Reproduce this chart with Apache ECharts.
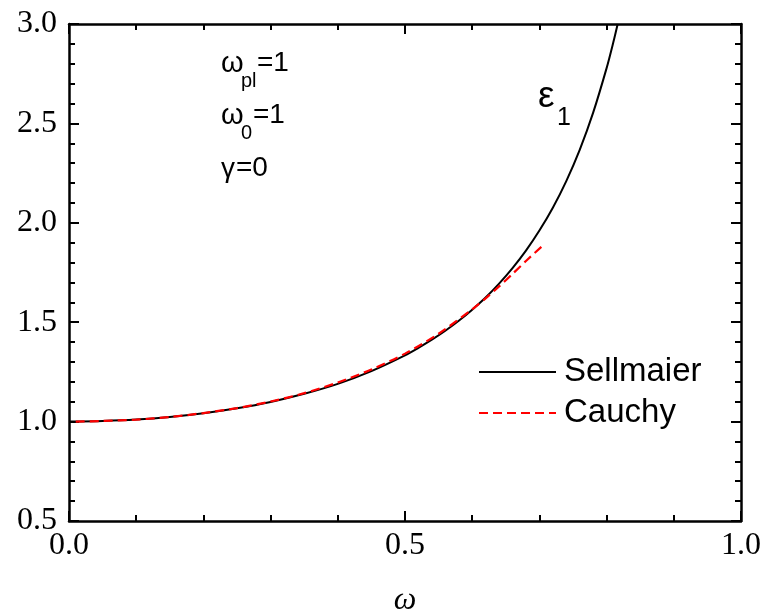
<!DOCTYPE html>
<html>
<head>
<meta charset="utf-8">
<script src="https://cdn.jsdelivr.net/npm/echarts@6/dist/echarts.min.js"></script>
<style>html,body{margin:0;padding:0;background:#fff;}#c{width:763px;height:611px;}</style>
</head>
<body>
<div id="c"></div>
<script>
// Sellmeier curve
var sellOmega = [0, 0.05, 0.1, 0.15, 0.2, 0.25, 0.3, 0.35, 0.4, 0.45, 0.5, 0.52, 0.54, 0.56, 0.58, 0.6, 0.62, 0.64, 0.66, 0.68, 0.7, 0.72, 0.74, 0.76, 0.78, 0.8, 0.81, 0.8165];
var sellEps   = [1.000, 1.003, 1.010, 1.023, 1.042, 1.067, 1.099, 1.140, 1.190, 1.254, 1.333, 1.371, 1.412, 1.457, 1.507, 1.563, 1.624, 1.694, 1.772, 1.860, 1.961, 2.076, 2.210, 2.367, 2.554, 2.778, 2.908, 3.000];
// Cauchy approximation
var cauOmega = [0.01, 0.05, 0.1, 0.15, 0.2, 0.25, 0.3, 0.35, 0.4, 0.45, 0.5, 0.55, 0.6, 0.62, 0.64, 0.66, 0.68, 0.705];
var cauEps   = [1.000, 1.003, 1.010, 1.023, 1.043, 1.068, 1.101, 1.143, 1.197, 1.262, 1.342, 1.442, 1.565, 1.620, 1.680, 1.743, 1.808, 1.885];
var xTicks = [0.0, 0.5, 1.0];
var yTicks = [0.5, 1.0, 1.5, 2.0, 2.5, 3.0];
var seriesNames = ['Sellmaier', 'Cauchy'];

function pairs(xs, ys) { return xs.map(function (x, i) { return [x, ys[i]]; }); }

var serif = "'Liberation Serif', 'Times New Roman', serif";
var sans = "'Liberation Sans', Arial, sans-serif";
var axLine = { show: true, onZero: false, lineStyle: { color: '#000', width: 2.5 } };
var tick = { show: true, inside: true, length: 10, lineStyle: { color: '#000', width: 2 } };
var minor = { show: true, splitNumber: 5, length: 6, lineStyle: { color: '#000', width: 2 } };

function baseX(pos, labels) {
  return {
    type: 'value', position: pos, min: xTicks[0], max: xTicks[xTicks.length - 1], interval: 0.5,
    axisLine: axLine, axisTick: tick, minorTick: minor, splitLine: { show: false }, minorSplitLine: { show: false },
    axisLabel: { show: labels, fontFamily: serif, fontSize: 32, color: '#000', margin: 9,
      formatter: function (v) { return v.toFixed(1); } }
  };
}
function baseY(pos, labels) {
  return {
    type: 'value', position: pos, min: yTicks[0], max: yTicks[yTicks.length - 1], interval: 0.5,
    axisLine: axLine, axisTick: tick, minorTick: minor, splitLine: { show: false }, minorSplitLine: { show: false },
    axisLabel: { show: labels, fontFamily: serif, fontSize: 32, color: '#000', margin: 12,
      formatter: function (v) { return v.toFixed(1); } }
  };
}

var chart = echarts.init(document.getElementById('c'), null, { renderer: 'canvas' });
var xa = baseX('bottom', true);
xa.name = 'ω';
xa.nameLocation = 'middle';
xa.nameGap = 64;
xa.nameTextStyle = { fontFamily: serif, fontStyle: 'italic', fontSize: 32, color: '#000' };

function txt(s, x, y, size) {
  var st = { text: s, x: x, y: y, fill: '#000', font: size + 'px ' + sans, textAlign: 'left', textVerticalAlign: 'bottom', verticalAlign: 'bottom' };
  return { type: 'text', style: st, z: 100 };
}

chart.setOption({
  animation: false,
  backgroundColor: '#fff',
  grid: { left: 69, right: 22, top: 24, bottom: 90, containLabel: false, outerBoundsMode: 'none' },
  xAxis: [xa, baseX('top', false)],
  yAxis: [baseY('left', true), baseY('right', false)],
  legend: {
    orient: 'vertical', left: 473, top: 350, itemWidth: 77, itemHeight: 14, itemGap: 7,
    itemStyle: { opacity: 0 },
    textStyle: { fontFamily: sans, fontSize: 33, color: '#000', lineHeight: 34, padding: [0, 0, 0, 3] },
    data: seriesNames
  },
  series: [
    { name: seriesNames[0], type: 'line', xAxisIndex: 0, yAxisIndex: 0, data: pairs(sellOmega, sellEps),
      symbol: 'none', smooth: 0.3, lineStyle: { color: '#000', width: 2, type: 'solid' }, itemStyle: { color: '#000' }, z: 3 },
    { name: seriesNames[1], type: 'line', xAxisIndex: 0, yAxisIndex: 0, data: pairs(cauOmega, cauEps),
      symbol: 'none', smooth: 0.3, lineStyle: { color: '#ff0000', width: 2.2, type: [9, 5] }, itemStyle: { color: '#ff0000' }, z: 4 }
  ],
  graphic: [
    txt('ω', 221, 78, 29), txt('pl', 241, 91, 20), txt('=1', 257, 77, 28),
    txt('ω', 221, 130, 29), txt('0', 241, 143, 20), txt('=1', 253, 129, 28),
    txt('γ', 221, 183, 28), txt('=0', 236, 182, 28),
    txt('ε', 538, 115, 37), txt('1', 557, 131, 25)
  ]
});
</script>
</body>
</html>
